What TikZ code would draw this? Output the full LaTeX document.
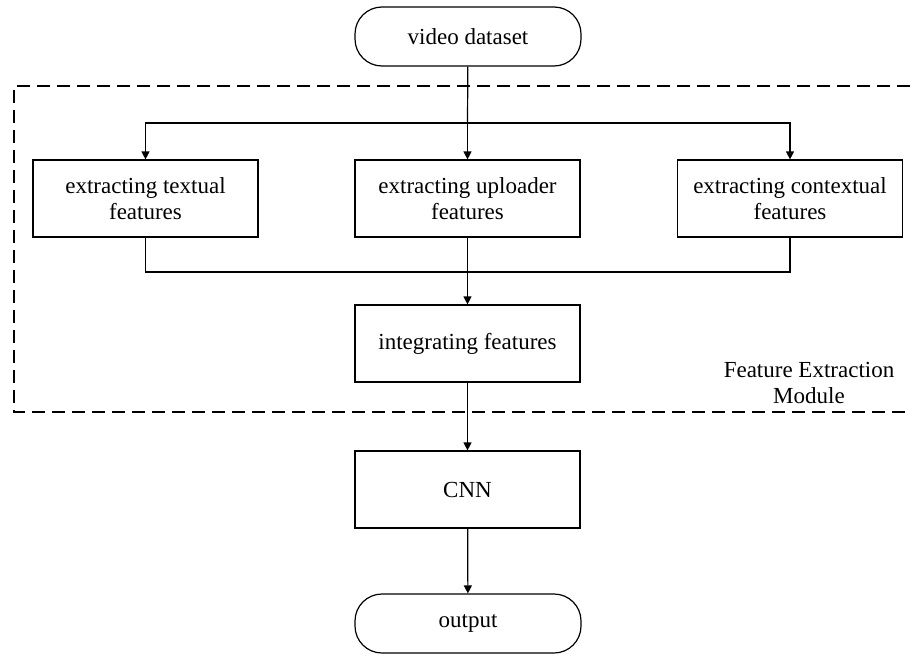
\documentclass[tikz,border=0pt]{standalone}
\usepackage{fontspec}
\setmainfont{Liberation Serif}
\usetikzlibrary{arrows.meta}
\begin{document}
\begin{tikzpicture}[x=1pt,y=-1pt,
  every node/.style={font=\fontsize{23}{26}\selectfont},
  proc/.style={draw, line width=1.2pt, minimum width=225pt, minimum height=77pt, inner sep=0pt, align=center},
  term/.style={draw, line width=1.2pt, rounded corners=27pt, minimum width=226pt, minimum height=59pt, inner sep=0pt},
  flow/.style={line width=1.2pt},
  arr/.style={flow, -{Triangle[length=8pt,width=8pt]}},
  module/.style={line width=2pt, dash pattern=on 13pt off 7pt}]
\useasboundingbox (0,0) rectangle (915,656);

% feature extraction module frame (open on the right)
\draw[module] (910,86) -- (14,86) -- (14,412) -- (910,412);
\node[align=center] (modlabel) at (809,383) {Feature Extraction\\Module};

% process steps
\node[term] (data) at (468,36.5) {video dataset};
\node[proc] (text) at (145.5,198.5) {extracting textual\\features};
\node[proc] (upl) at (467.5,198.5) {extracting uploader\\features};
\node[proc] (ctx) at (790,198.5) {extracting contextual\\features};
\node[proc] (integ) at (467.5,343.5) {integrating features};
\node[proc] (cnn) at (467.5,489.5) {CNN};
\node[term] (out) at (468,623.5) {output};

% branch and join points
\coordinate (split) at (467.5,123);
\coordinate (join) at (467.5,272);

% connectors
\draw[flow] (data) -- (split);
\draw[arr] (split) -| (text);
\draw[arr] (split) -- (upl);
\draw[arr] (split) -| (ctx);
\draw[flow] (text) |- (join);
\draw[flow] (ctx) |- (join);
\draw[flow] (upl) -- (join);
\draw[arr] (join) -- (integ);
\draw[arr] (integ) -- (cnn);
\draw[arr] (cnn) -- (out);
\end{tikzpicture}
\end{document}
